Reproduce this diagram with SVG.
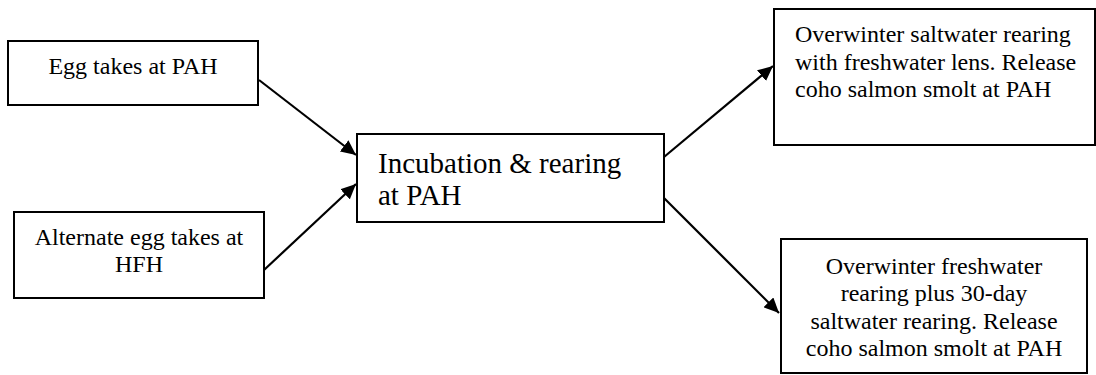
<svg xmlns="http://www.w3.org/2000/svg" width="1096" height="375" viewBox="0 0 1096 375">
<style>
.box{fill:#fff;stroke:#000;stroke-width:2}
.t{font-family:"Liberation Serif","Times New Roman",serif;font-size:24px;fill:#000}
.c{text-anchor:middle}
.big{font-size:29px}
.conn{stroke:#000;stroke-width:2.2;fill:none;marker-end:url(#ah)}
</style>
<defs>
<marker id="ah" markerUnits="userSpaceOnUse" markerWidth="16" markerHeight="14" refX="15" refY="7" orient="auto">
<path d="M0,0 L15,7 L0,14 Z" fill="#000"/>
</marker>
</defs>
<rect width="1096" height="375" fill="#fff"/>
<g id="connectors">
<line class="conn" x1="259" y1="80" x2="356" y2="155"/>
<line class="conn" x1="264" y1="270" x2="356" y2="184"/>
<line class="conn" x1="664" y1="157" x2="773" y2="66"/>
<line class="conn" x1="664" y1="198" x2="779" y2="313"/>
</g>
<g id="egg-takes">
<rect class="box" x="8" y="41" width="250" height="64"/>
<text class="t c" x="133" y="74">Egg takes at PAH</text>
</g>
<g id="alternate">
<rect class="box" x="14" y="212" width="250" height="86"/>
<text class="t c" x="139" y="245">Alternate egg takes at</text>
<text class="t c" x="139" y="272">HFH</text>
</g>
<g id="incubation">
<rect class="box" x="357" y="134" width="307" height="88"/>
<text class="t big" x="378" y="173">Incubation &amp; rearing</text>
<text class="t big" x="378" y="205">at PAH</text>
</g>
<g id="saltwater">
<rect class="box" x="774" y="9" width="321" height="136"/>
<text class="t" x="795" y="42">Overwinter saltwater rearing</text>
<text class="t" x="795" y="70">with freshwater lens. Release</text>
<text class="t" x="795" y="97">coho salmon smolt at PAH</text>
</g>
<g id="freshwater">
<rect class="box" x="781" y="239" width="306" height="134"/>
<text class="t c" x="934" y="274">Overwinter freshwater</text>
<text class="t c" x="934" y="301">rearing plus 30-day</text>
<text class="t c" x="934" y="329">saltwater rearing. Release</text>
<text class="t c" x="934" y="356">coho salmon smolt at PAH</text>
</g>
</svg>
